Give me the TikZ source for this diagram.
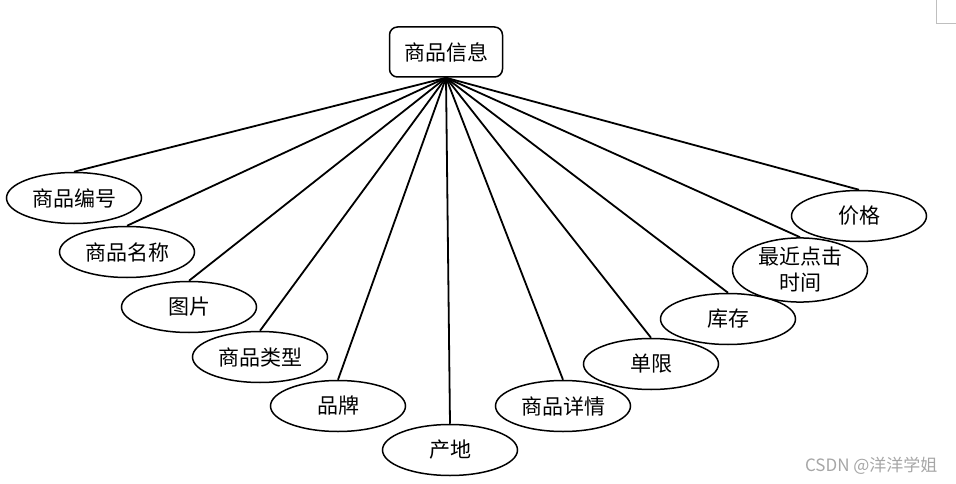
\documentclass[tikz,border=0pt]{standalone}
\usepackage{fontspec}
\setmainfont{Noto Sans CJK SC}
\newfontfamily\markfont{Noto Sans CJK SC}
\usetikzlibrary{shapes.geometric}
\tikzset{
	attr/.style={draw,ellipse,line width=1.5pt,minimum width=135pt,minimum height=51pt,inner sep=0pt,
		font=\fontsize{21}{26}\selectfont,align=center},
	entity/.style={draw,rounded corners=8pt,line width=1.5pt,minimum width=113pt,minimum height=50pt,
		font=\fontsize{21}{26}\selectfont},
	link/.style={line width=1.8pt}
}
\begin{document}
\begin{tikzpicture}[x=1pt,y=-1pt]
		\useasboundingbox(0,0)rectangle(956,484);
		\node[entity](info)at(446,52){商品信息};
		\node[attr](bh)at(74,198){商品编号};
		\node[attr](mc)at(127,252){商品名称};
		\node[attr](tp)at(189,307){图片};
		\node[attr](lx)at(260,357){商品类型};
		\node[attr](pp)at(338,406){品牌};
		\node[attr](cd)at(450,450){产地};
		\node[attr](xq)at(563,406){商品详情};
		\node[attr](dx)at(651,364){单限};
		\node[attr](kc)at(728,319){库存};
		\node[attr](sj)at(800,270){最近点击\\时间};
		\node[attr](jg)at(859,216){价格};
		\foreach \a in {bh,mc,tp,lx,pp,cd,xq,dx,kc,sj,jg}
			\draw[link](info.south)--(\a.north);
		\node[text=gray!70,font=\markfont\fontsize{17}{19}\selectfont,anchor=east](mark)at(941,466){CSDN @洋洋学姐};
		\draw[gray!50](936,0)--(936,23)--(956,23);
	\end{tikzpicture}
\end{document}
